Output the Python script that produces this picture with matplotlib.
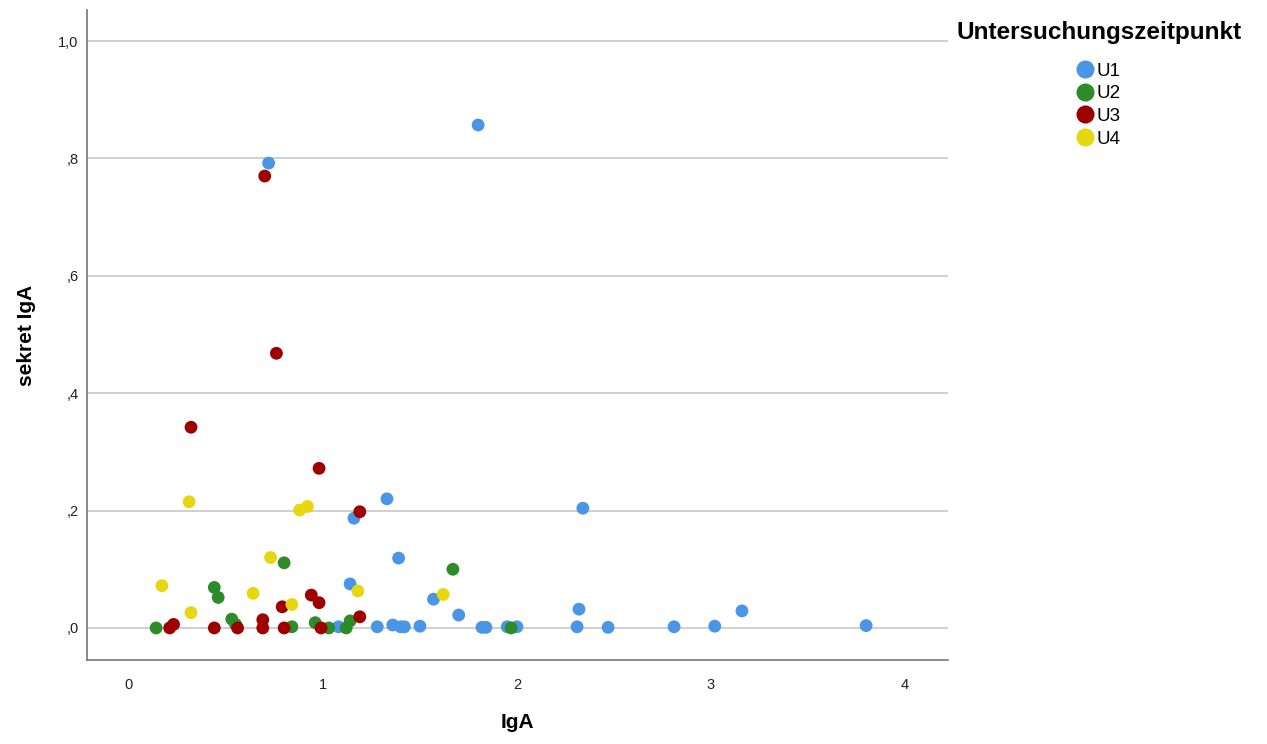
import matplotlib.pyplot as plt
from matplotlib.lines import Line2D

groups = ["U1", "U2", "U3", "U4"]
colors = ["#4a95e4", "#2e8b2a", "#9e0000", "#e6d70f"]

u1_x = [1.80, 0.72, 1.33, 1.16, 2.34, 1.39, 1.14, 1.57, 1.70, 2.32, 3.16, 1.08, 1.28,
        1.36, 1.40, 1.42, 1.50, 1.82, 1.84, 1.95, 2.00, 2.31, 2.47, 2.81, 3.02, 3.80]
u1_y = [0.857, 0.792, 0.220, 0.187, 0.204, 0.119, 0.075, 0.049, 0.022, 0.032, 0.029, 0.002, 0.002,
        0.005, 0.002, 0.002, 0.003, 0.001, 0.001, 0.002, 0.002, 0.002, 0.001, 0.002, 0.003, 0.004]

u2_x = [0.14, 0.44, 0.46, 0.53, 0.55, 0.80, 0.84, 0.96, 1.03, 1.12, 1.14, 1.67, 1.97]
u2_y = [0.0, 0.069, 0.052, 0.015, 0.006, 0.111, 0.002, 0.009, 0.0, 0.0, 0.012, 0.100, 0.0]

u3_x = [0.70, 0.76, 0.32, 0.98, 1.19, 0.21, 0.23, 0.44, 0.56, 0.69, 0.69, 0.79, 0.80,
        0.94, 0.98, 0.99, 1.19]
u3_y = [0.770, 0.468, 0.342, 0.272, 0.198, 0.0, 0.006, 0.0, 0.0, 0.014, 0.0, 0.036, 0.0,
        0.056, 0.043, 0.0, 0.019]

u4_x = [0.31, 0.88, 0.92, 0.73, 0.17, 0.32, 0.64, 0.84, 1.18, 1.62]
u4_y = [0.215, 0.201, 0.207, 0.120, 0.072, 0.026, 0.059, 0.040, 0.063, 0.057]

xs = [u1_x, u2_x, u3_x, u4_x]
ys = [u1_y, u2_y, u3_y, u4_y]

y_ticks = [0.0, 0.2, 0.4, 0.6, 0.8, 1.0]
y_labels = [",0", ",2", ",4", ",6", ",8", "1,0"]
x_ticks = [0, 1, 2, 3, 4]

plt.rcParams["font.family"] = ["Liberation Sans", "DejaVu Sans"]

fig = plt.figure(figsize=(12.67, 7.44), dpi=100)
ax = fig.add_axes([0.0687, 0.113, 0.6795, 0.8736])

ax.set_yticks(y_ticks)
ax.set_yticklabels(y_labels)
ax.grid(axis="y", color="#c8c8c8", linewidth=1.2, zorder=0)
ax.set_axisbelow(True)

for gx, gy, c in zip(xs, ys, colors):
    ax.scatter(gx, gy, s=85, color=c, edgecolors="none", zorder=3)

ax.set_xlim(-0.216, 4.222)
ax.set_ylim(-0.0545, 1.053)
ax.set_xticks(x_ticks)
ax.tick_params(length=0, labelsize=10.5, colors="#222222")
ax.tick_params(axis="y", pad=6)
ax.tick_params(axis="x", pad=13)

for side in ["top", "right"]:
    ax.spines[side].set_visible(False)
for side in ["left", "bottom"]:
    ax.spines[side].set_color("#777777")
    ax.spines[side].set_linewidth(1.2)

ax.set_xlabel("IgA", fontsize=15, fontweight="bold", labelpad=15)
ax.set_ylabel("sekret IgA", fontsize=15, fontweight="bold", labelpad=16)

fig.text(957 / 1267, 1 - 33 / 744, "Untersuchungszeitpunkt", fontsize=17.5,
         fontweight="bold", va="center", ha="left")
handles = [Line2D([], [], marker="o", linestyle="none", markersize=13,
                  markerfacecolor=c, markeredgecolor="none") for c in colors]
fig.legend(handles, groups, loc="upper left", bbox_to_anchor=(1066 / 1267, 1 - 53 / 744),
           frameon=False, fontsize=13.5, handletextpad=0.15, labelspacing=0.3,
           borderpad=0, handlelength=1.0)

fig.savefig("out.png", dpi=100)
